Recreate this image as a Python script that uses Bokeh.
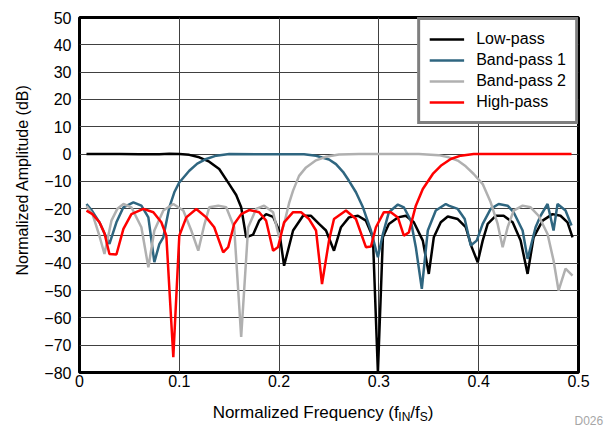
from bokeh.plotting import figure
from bokeh.models import Legend, LegendItem, FixedTicker, Range1d, Title, LinearAxis
from bokeh.layouts import column
from bokeh.core.properties import value
from bokeh.embed import file_html
from bokeh.resources import INLINE

# ---- data ----
lp_f = [0.007, 0.02, 0.04, 0.06, 0.08, 0.09, 0.10, 0.11, 0.12, 0.13, 0.14, 0.15, 0.157, 0.162, 0.167,
        0.174, 0.180, 0.187, 0.194, 0.200, 0.205, 0.214, 0.224, 0.232, 0.240, 0.247, 0.255, 0.262,
        0.270, 0.279, 0.287, 0.294, 0.299, 0.304, 0.310, 0.319, 0.327, 0.335, 0.344, 0.350, 0.355,
        0.362, 0.369, 0.379, 0.387, 0.393, 0.399, 0.404, 0.409, 0.417, 0.425, 0.434, 0.442, 0.449,
        0.455, 0.464, 0.474, 0.482, 0.489, 0.494]
lp_db = [0.0, 0.05, 0.0, -0.1, -0.1, 0.1, 0.0, -0.3, -1.2, -2.8, -5.5, -11.0, -15.0, -19.5, -30.5,
         -29.5, -24.4, -22.0, -23.0, -28.0, -40.9, -28.0, -22.6, -22.6, -25.6, -28.0, -35.4, -26.8,
         -23.2, -22.6, -24.4, -30.5, -80.0, -30.5, -25.6, -23.2, -22.6, -25.0, -31.7, -43.9, -30.5,
         -25.0, -22.9, -23.8, -26.8, -34.1, -39.6, -31.7, -25.6, -22.6, -22.6, -25.0, -31.7, -43.9,
         -30.5, -24.4, -22.0, -22.6, -25.0, -30.5]

bp1_f = [0.007, 0.012, 0.020, 0.025, 0.030, 0.037, 0.044, 0.054, 0.062, 0.069, 0.075, 0.080, 0.084,
         0.090, 0.095, 0.100, 0.110, 0.118, 0.127, 0.137, 0.150, 0.200, 0.225, 0.237, 0.250, 0.257,
         0.264, 0.270, 0.277, 0.284, 0.292, 0.299, 0.304, 0.310, 0.319, 0.325, 0.332, 0.337, 0.343,
         0.349, 0.357, 0.367, 0.370, 0.379, 0.386, 0.392, 0.398, 0.404, 0.412, 0.420, 0.429, 0.435,
         0.444, 0.449, 0.457, 0.462, 0.469, 0.475, 0.479, 0.487, 0.493]
bp1_db = [-18.3, -20.5, -25.0, -29.0, -32.9, -25.0, -19.5, -17.7, -18.9, -23.2, -39.6, -33.0, -30.5,
          -19.5, -14.0, -10.4, -6.1, -3.5, -1.8, -0.6, 0.0, -0.1, -0.1, -0.6, -2.0, -3.7,
          -6.5, -9.8, -14.0, -19.5, -28.0, -37.8, -29.3, -21.3, -18.5, -19.5, -24.4, -34.1, -49.4,
          -28.0, -20.7, -18.3, -18.9, -20.1, -23.8, -33.5, -31.7, -25.6, -20.1, -18.3, -18.9, -21.3,
          -28.0, -38.4, -26.8, -22.6, -18.3, -28.0, -18.3, -20.7, -26.2]

bp2_f = [0.007, 0.013, 0.020, 0.025, 0.032, 0.038, 0.044, 0.052, 0.062, 0.069, 0.075, 0.084, 0.094,
         0.104, 0.112, 0.119, 0.125, 0.130, 0.139, 0.147, 0.155, 0.162, 0.169, 0.177, 0.185, 0.194,
         0.200, 0.205, 0.210, 0.214, 0.220, 0.227, 0.237, 0.247, 0.260, 0.280, 0.340, 0.360, 0.370,
         0.379, 0.387, 0.395, 0.404, 0.412, 0.419, 0.424, 0.429, 0.435, 0.444, 0.452, 0.460, 0.469,
         0.475, 0.480, 0.487, 0.494]
bp2_db = [-19.0, -22.0, -30.0, -36.6, -24.4, -20.0, -18.3, -19.5, -26.8, -41.5, -28.0, -20.7, -18.3,
          -20.7, -28.0, -35.4, -26.0, -19.5, -18.9, -19.5, -26.8, -67.0, -26.8, -20.1, -18.9, -21.3,
          -30.5, -25.6, -18.0, -13.4, -8.0, -4.9, -2.3, -1.0, -0.2, 0.0, 0.0, -0.4, -1.2,
          -2.4, -4.5, -7.3, -11.0, -17.7, -25.6, -34.1, -26.8, -20.7, -18.9, -19.5, -22.6, -29.3,
          -39.0, -50.0, -42.0, -44.5]

hp_f = [0.007, 0.013, 0.020, 0.025, 0.030, 0.037, 0.044, 0.052, 0.064, 0.074, 0.082, 0.087, 0.094,
        0.100, 0.107, 0.117, 0.127, 0.135, 0.144, 0.149, 0.155, 0.162, 0.170, 0.180, 0.187, 0.194,
        0.199, 0.205, 0.214, 0.222, 0.230, 0.237, 0.243, 0.250, 0.255, 0.267, 0.277, 0.287, 0.292,
        0.297, 0.305, 0.312, 0.319, 0.325, 0.330, 0.337, 0.344, 0.354, 0.362, 0.372, 0.382, 0.395,
        0.493]
hp_db = [-20.7, -22.0, -25.0, -29.0, -36.6, -36.8, -27.4, -22.0, -20.1, -21.3, -25.0, -29.9, -74.4,
         -29.9, -23.2, -20.1, -23.2, -26.8, -36.0, -34.1, -25.6, -22.0, -20.5, -21.3, -24.4, -35.4,
         -34.0, -25.0, -21.3, -21.3, -23.8, -28.0, -47.6, -31.7, -23.8, -20.7, -23.8, -34.1, -33.9,
         -26.8, -21.3, -21.3, -23.2, -29.9, -28.7, -18.9, -12.8, -7.3, -4.3, -1.8, -0.6, 0.0,
         0.0]

series_names = ["Low-pass", "Band-pass 1", "Band-pass 2", "High-pass"]
series_colors = ["#000000", "#2f6680", "#b0b0b0", "#ff0000"]

x_ticks = [0, 0.1, 0.2, 0.3, 0.4, 0.5]
x_tick_labels = ["0", "0.1", "0.2", "0.3", "0.4", "0.5"]
y_ticks = [50, 40, 30, 20, 10, 0, -10, -20, -30, -40, -50, -60, -70, -80]

y_title = "Normalized Amplitude (dB)"
x_title_parts = ["Normalized Frequency (f", "IN", "/f", "S", ")"]
note_text = "D026"

FONT = "Liberation Sans"
W = 608
LEFT, RIGHT = 78, 30

p = figure(width=W, height=394, output_backend="svg", toolbar_location=None,
           x_range=Range1d(0, 0.5), y_range=Range1d(-80, 50),
           min_border_left=LEFT, min_border_right=RIGHT, min_border_top=17, min_border_bottom=22)

p.background_fill_color = "white"
p.border_fill_color = "white"
p.outline_line_color = "black"
p.outline_line_width = 3

p.xaxis.ticker = FixedTicker(ticks=x_ticks)
p.xaxis.major_label_overrides = {v: s for v, s in zip(x_ticks, x_tick_labels)}
p.yaxis.ticker = FixedTicker(ticks=y_ticks)

for ax in (p.xaxis[0], p.yaxis[0]):
    ax.axis_line_color = None
    ax.major_tick_line_color = None
    ax.minor_tick_line_color = None
    ax.major_tick_out = 0
    ax.major_tick_in = 0
    ax.major_label_text_font = FONT
    ax.major_label_text_font_size = "16px"
    ax.major_label_text_color = "black"

p.xaxis.major_label_standoff = 2
p.yaxis.major_label_standoff = 8

ttl = Title(text=y_title, align="left", offset=97, standoff=22,
            text_font=FONT, text_font_size="16px", text_font_style="normal", text_color="black")
p.add_layout(ttl, "left")

p.xgrid.grid_line_color = "#404040"
p.ygrid.grid_line_color = "#404040"
p.xgrid.grid_line_width = 1
p.ygrid.grid_line_width = 1

renderers = []
for fx, fy, c in [(lp_f, lp_db, series_colors[0]), (bp1_f, bp1_db, series_colors[1]),
                  (bp2_f, bp2_db, series_colors[2]), (hp_f, hp_db, series_colors[3])]:
    r = p.line(fx, fy, line_color=c, line_width=2.5)
    renderers.append(r)

legend = Legend(items=[LegendItem(label=n, renderers=[r]) for n, r in zip(series_names, renderers)],
                location="top_right")
legend.margin = 0
legend.padding = 9
legend.spacing = 1
legend.glyph_width = 35
legend.glyph_height = 20
legend.label_height = 20
legend.label_standoff = 12
legend.label_text_font = FONT
legend.label_text_font_size = "16px"
legend.label_text_color = "black"
legend.border_line_color = "black"
legend.border_line_width = 3
legend.background_fill_color = "white"
legend.background_fill_alpha = 1.0
p.add_layout(legend)

# ---- strip below the chart: x-axis title with subscripts (frame aligned with the chart) ----
H2 = 34
q = figure(width=W, height=H2, output_backend="svg", toolbar_location=None,
           x_range=Range1d(LEFT, W - RIGHT), y_range=Range1d(0, H2),
           min_border_left=LEFT, min_border_right=RIGHT, min_border_top=0, min_border_bottom=0,
           x_axis_type=None, y_axis_type=None)
q.outline_line_color = None
q.grid.visible = False
q.background_fill_color = "white"
q.border_fill_color = "white"

big = 17
small = 12
w_main = 10.947 * big
w_sub1 = 1.000 * small
w_mid = 0.556 * big
w_sub2 = 0.667 * small
total = w_main + w_sub1 + w_mid + w_sub2 + 0.333 * big
x0 = 322 - total / 2
xs = [x0, x0 + w_main, x0 + w_main + w_sub1, x0 + w_main + w_sub1 + w_mid,
      x0 + w_main + w_sub1 + w_mid + w_sub2]
base = 16
ys = [base, base - 4, base, base - 4, base]
sizes = [big, small, big, small, big]
for t, x, y, s in zip(x_title_parts, xs, ys, sizes):
    q.text(x=[x], y=[y], text=[t], text_font=value(FONT), text_font_size=value(f"{s}px"),
           text_color="black", text_baseline="alphabetic", text_align="left")

# figure id, drawn as the single label of a bare axis on the strip's right side
note_axis = LinearAxis(ticker=FixedTicker(ticks=[6]), major_label_overrides={6: note_text})
note_axis.axis_line_color = None
note_axis.major_tick_line_color = None
note_axis.minor_tick_line_color = None
note_axis.major_tick_out = 0
note_axis.major_tick_in = 0
note_axis.major_label_standoff = -4
note_axis.major_label_text_font = FONT
note_axis.major_label_text_font_size = "12px"
note_axis.major_label_text_color = "#a6a6a6"
q.add_layout(note_axis, "right")

layout = column(p, q, spacing=0)
open("out.html", "w").write(file_html(layout, INLINE))
